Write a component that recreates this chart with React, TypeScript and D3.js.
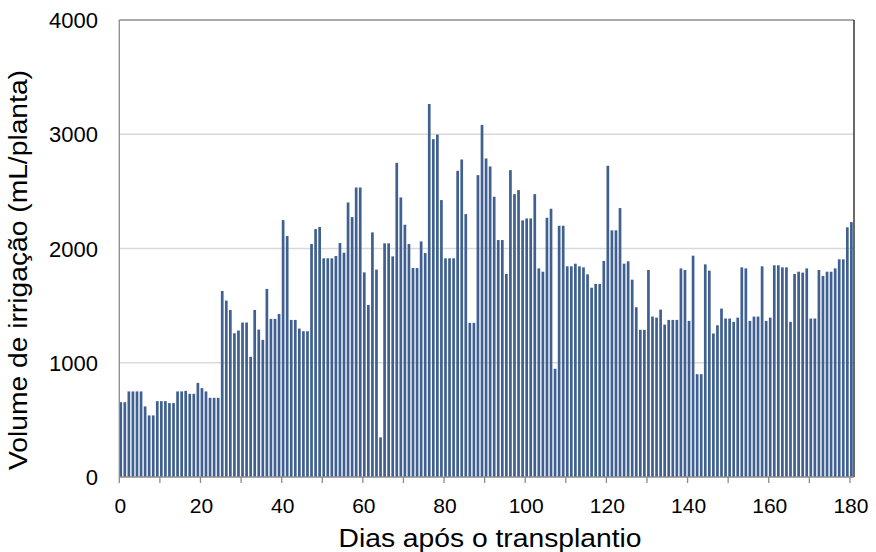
import React, { useEffect, useRef } from 'react';
import * as d3 from 'd3';

// daily irrigation volume (mL/planta), day 0 .. 180
const volumes = [
  655, 655, 749, 749, 749, 749, 618, 539, 539, 664,
  664, 664, 647, 647, 749, 749, 754, 728, 728, 824,
  778, 749, 693, 693, 693, 1628, 1544, 1462, 1258, 1282,
  1352, 1352, 1052, 1462, 1290, 1200, 1646, 1384, 1384, 1427,
  2249, 2109, 1375, 1375, 1299, 1276, 1276, 2039, 2170, 2188,
  1914, 1914, 1914, 1934, 2048, 1963, 2403, 2275, 2534, 2534,
  1791, 1506, 2141, 1815, 347, 2045, 2045, 1931, 2750, 2447,
  2208, 2039, 1829, 1829, 2062, 1960, 3265, 2957, 2997, 2424,
  1914, 1914, 1914, 2680, 2779, 2301, 1349, 1349, 2642, 3082,
  2788, 2718, 2453, 2074, 2074, 1777, 2686, 2476, 2511, 2246,
  2263, 2263, 2476, 1826, 1797, 2269, 2348, 947, 2199, 2199,
  1844, 1844, 1867, 1844, 1835, 1774, 1657, 1690, 1690, 1891,
  2724, 2159, 2159, 2354, 1867, 1888, 1727, 1486, 1288, 1288,
  1812, 1404, 1395, 1465, 1334, 1375, 1375, 1375, 1826, 1812,
  1366, 1937, 900, 900, 1861, 1806, 1256, 1328, 1474, 1387,
  1387, 1358, 1395, 1835, 1826, 1366, 1404, 1404, 1844, 1366,
  1395, 1853, 1853, 1835, 1835, 1358, 1777, 1797, 1789, 1826,
  1387, 1387, 1812, 1760, 1797, 1797, 1826, 1905, 1905, 2185,
  2231,
];
const xLabels = [0, 20, 40, 60, 80, 100, 120, 140, 160, 180];
const xTickMarks = [0, 10, 20, 30, 40, 50, 60, 70, 80, 90, 100, 110, 120, 130, 140, 150, 160, 170, 180];
const yTicks = [0, 1000, 2000, 3000, 4000];

const W = 876, H = 552;

function BarChart() {
  const ref = useRef<SVGSVGElement>(null);

  useEffect(() => {
    const svg = d3.select(ref.current);
    svg.selectAll('*').remove();

    const left = 119.3, right = 854, top = 20, bottom = 477;
    const x = d3.scaleLinear().domain([0, 181]).range([left, right]);
    const y = d3.scaleLinear().domain([0, 4000]).range([bottom, top]);
    const font = "'Liberation Sans', Arial, sans-serif";

    svg.append('rect').attr('width', W).attr('height', H).attr('fill', '#fff');

    // gridlines
    svg.append('g')
      .selectAll('line')
      .data(yTicks.filter(d => d > 0 && d < 4000))
      .enter().append('line')
      .attr('x1', left).attr('x2', right)
      .attr('y1', d => y(d)).attr('y2', d => y(d))
      .attr('stroke', '#d9d9d9').attr('stroke-width', 1.3);

    // bars
    svg.append('g')
      .selectAll('rect')
      .data(volumes)
      .enter().append('rect')
      .attr('x', (d, i) => x(i) + 0.1)
      .attr('y', d => y(d))
      .attr('width', 2.7)
      .attr('height', d => bottom - y(d))
      .attr('fill', '#3f6090');

    // plot frame
    svg.append('line').attr('x1', left).attr('x2', right).attr('y1', top).attr('y2', top)
      .attr('stroke', '#8c8c8c').attr('stroke-width', 1.3);
    svg.append('line').attr('x1', right).attr('x2', right).attr('y1', top).attr('y2', bottom)
      .attr('stroke', '#1a1a1a').attr('stroke-width', 1.3);
    svg.append('line').attr('x1', left).attr('x2', left).attr('y1', top).attr('y2', bottom)
      .attr('stroke', '#8c8c8c').attr('stroke-width', 1.3);
    svg.append('line').attr('x1', left).attr('x2', right).attr('y1', bottom).attr('y2', bottom)
      .attr('stroke', '#8c8c8c').attr('stroke-width', 1.3);

    // x tick marks
    svg.append('g')
      .selectAll('line')
      .data(xTickMarks)
      .enter().append('line')
      .attr('x1', d => x(d)).attr('x2', d => x(d))
      .attr('y1', bottom).attr('y2', bottom + 6)
      .attr('stroke', '#8c8c8c').attr('stroke-width', 1.3);

    // x labels
    svg.append('g')
      .selectAll('text')
      .data(xLabels)
      .enter().append('text')
      .attr('x', d => x(d) + 1)
      .attr('y', 513)
      .attr('text-anchor', 'middle')
      .style('font-family', font).style('font-size', '21px').attr('fill', '#000')
      .text(d => d);

    // y labels
    svg.append('g')
      .selectAll('text')
      .data(yTicks)
      .enter().append('text')
      .attr('x', 98)
      .attr('y', d => y(d) + 8)
      .attr('text-anchor', 'end')
      .style('font-family', font).style('font-size', '22px').attr('fill', '#000')
      .text(d => d);

    // axis titles
    svg.append('text')
      .attr('x', 490).attr('y', 547)
      .attr('text-anchor', 'middle')
      .attr('textLength', 303).attr('lengthAdjust', 'spacingAndGlyphs')
      .style('font-family', font).style('font-size', '25px')
      .text('Dias após o transplantio');

    svg.append('text')
      .attr('transform', 'translate(26.5,270) rotate(-90)')
      .attr('text-anchor', 'middle')
      .attr('textLength', 400).attr('lengthAdjust', 'spacingAndGlyphs')
      .style('font-family', font).style('font-size', '25px')
      .text('Volume de irrigação (mL/planta)');
  }, []);

  return <svg ref={ref} width={W} height={H} style={{ display: 'block' }}></svg>;
}

export default function App() {
  return (
    <div style={{ position: 'absolute', left: 0, top: 0 }}>
      <BarChart />
    </div>
  );
}
